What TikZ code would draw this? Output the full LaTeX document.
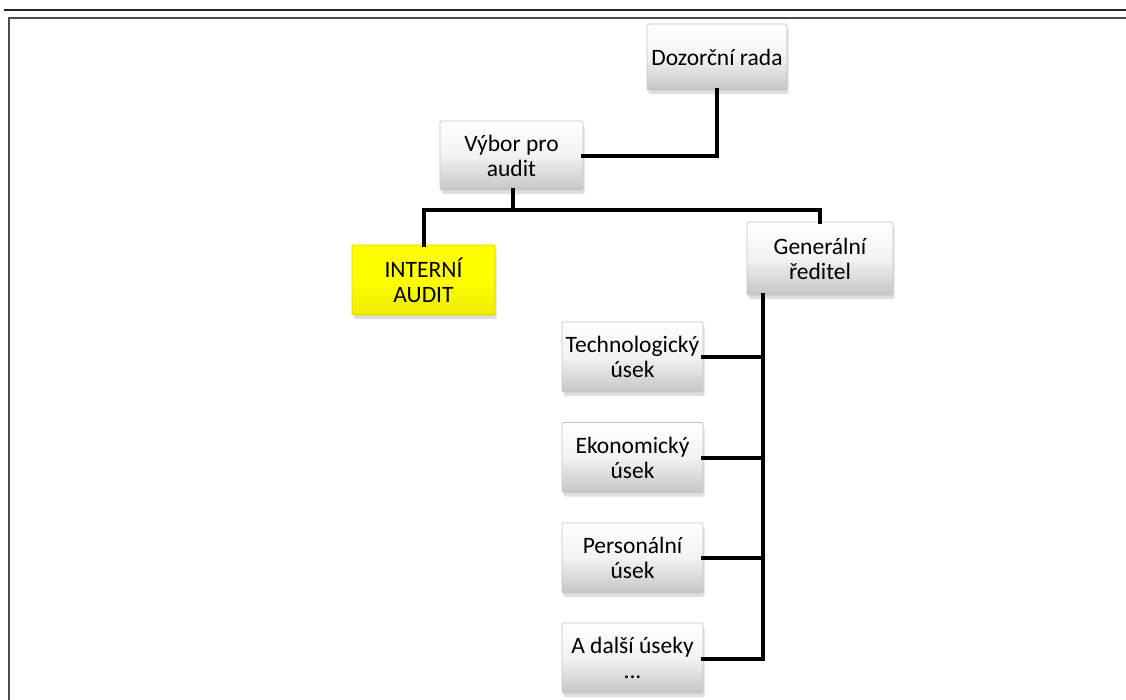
\documentclass[tikz,border=0pt]{standalone}
\usepackage{fontspec}
\setmainfont{Carlito}
\usetikzlibrary{shadows}
\tikzset{
  orgbox/.style={rectangle, draw=gray!45, line width=0.8pt, rounded corners=1.5pt,
    top color=white, bottom color=gray!45, middle color=gray!10,
    drop shadow={shadow xshift=1.5pt, shadow yshift=-4pt, opacity=0.35, fill=gray!70},
    align=center, inner sep=0pt, minimum width=141pt, minimum height=70pt,
    font=\fontsize{23.5}{25}\selectfont},
  auditbox/.style={orgbox, top color=yellow, bottom color=yellow!85!olive, middle color=yellow, draw=yellow!70!olive},
  link/.style={line width=4pt, line join=miter, line cap=rect},
}
\begin{document}
\begin{tikzpicture}[x=1pt,y=-1pt]
\useasboundingbox (0,0) rectangle (1126,699);
\fill[white] (0,0) rectangle (1126,699);
% page frame
\draw[line width=2pt, black!85] (4,10) -- (1126,10);
\draw[line width=2pt, black!70] (8.5,705) -- (8.5,18) -- (1130,18);
% nodes
\node[orgbox, minimum width=140pt, minimum height=66pt] (dozor) at (717,57) {Dozorční rada};
\node[orgbox, minimum width=143pt, minimum height=69pt] (vybor) at (511.5,155.5) {Výbor pro\\audit};
\node[auditbox, minimum width=143pt, minimum height=70pt] (interni) at (423.5,280) {INTERNÍ\\AUDIT};
\node[orgbox, minimum width=146pt, minimum height=73pt] (gen) at (820,258.5) {Generální\\ředitel};
\node[orgbox] (tech) at (632.5,357) {Technologický\\úsek};
\node[orgbox] (eko) at (632.5,457.5) {Ekonomický\\úsek};
\node[orgbox] (pers) at (632.5,558) {Personální\\úsek};
\node[orgbox] (dalsi) at (632.5,658) {A další úseky\\...};
% connectors
\coordinate (j1) at (513,210);
\coordinate (trunk) at (763,659);
\draw[link] (dozor.south) |- (vybor.east);
\draw[link] (vybor.south -| j1) -- (j1) -| (interni.north);
\draw[link] (j1) -| (gen.north);
\draw[link] (gen.south -| trunk) -- (trunk) -- (dalsi.east |- trunk);
\draw[link] (tech.east) -- (tech.east -| trunk);
\draw[link] (eko.east) -- (eko.east -| trunk);
\draw[link] (pers.east) -- (pers.east -| trunk);
\end{tikzpicture}
\end{document}
